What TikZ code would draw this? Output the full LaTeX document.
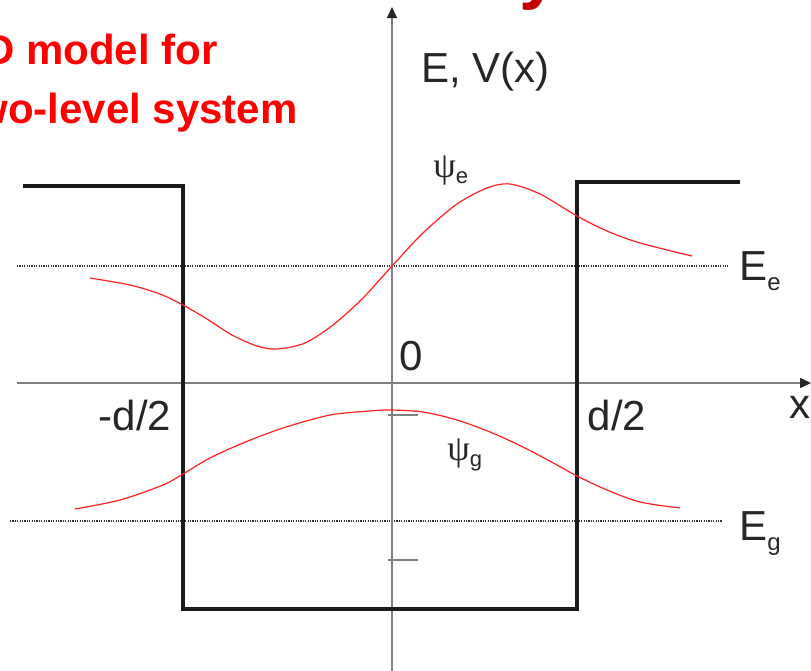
\documentclass[tikz,border=0pt]{standalone}
\usepackage{fontspec}
\setmainfont{Liberation Sans}
\newfontfamily\greekfont{Liberation Serif}
\usetikzlibrary{arrows.meta}
\definecolor{wellblack}{HTML}{1A1A1A}
\definecolor{axisgray}{HTML}{808080}
\definecolor{wavered}{HTML}{FF2020}
\definecolor{titlered}{HTML}{FF0000}
\definecolor{titledark}{HTML}{C00000}
\newcommand{\levelsub}[1]{E\raisebox{-5pt}{\fontsize{12}{12}\selectfont #1}}
\newcommand{\psisub}[1]{{\greekfont\fontsize{18}{18}\selectfont ψ}\raisebox{-3pt}{\fontsize{11}{11}\selectfont #1}}

\begin{document}
\begin{tikzpicture}[
  x=0.5pt,y=-0.5pt,
  well/.style={line width=2pt,draw=wellblack,line join=miter},
  axis/.style={line width=0.7pt,draw=axisgray,-{Triangle[length=5.5pt,width=5pt,color=black!85]}},
  level/.style={line width=0.6pt,draw=black!80,dash pattern=on 0.6pt off 0.6pt},
  wave/.style={line width=0.6pt,draw=wavered},
  lab/.style={inner sep=0pt,font=\fontsize{21}{25}\selectfont,text=black!85},
  title/.style={inner sep=0pt,font=\bfseries\fontsize{21}{25}\selectfont,text=titlered}
]
  \useasboundingbox (0,0) rectangle (811,671);
  \clip (0,0) rectangle (811,671);

  \node[title,anchor=base east] (titleone) at (218,64) {D model for};
  \node[title,anchor=base east] (titletwo) at (298,123) {wo-level system};
  \node[anchor=base,inner sep=0pt,text=titledark,font=\bfseries\fontsize{36}{36}\selectfont] (titletail) at (540,-5) {y};

  \draw[level] (17,266) -- (728,266);
  \draw[level] (10,521) -- (722,521);

  \draw[axis] (392,671) -- (392,7);
  \draw[axis] (17,383) -- (811,383);
  \draw[axisgray,line width=0.7pt] (388,415) -- (418,415);
  \draw[axisgray,line width=0.7pt] (388,560) -- (418,560);

  \draw[well] (23,186) -- (183,186) -- (183,609) -- (577,609) -- (577,182) -- (740,182);

  \draw[wave] plot[smooth] coordinates {(90,278) (130,285) (160,294) (183,305) (207,319) (232,335) (257,346) (277,349) (305,343) (333,325) (363,298) (392,266) (423,233) (457,204) (487,188) (510,184) (540,194) (577,216) (607,231) (640,243) (692,256)};
  \draw[wave] plot[smooth] coordinates {(75,509) (120,500) (163,485) (183,474) (210,458) (243,443) (283,428) (330,415) (370,411) (390,410) (423,412) (457,420) (490,432) (523,447) (557,465) (577,476) (607,490) (640,502) (680,508)};

  \node[lab,anchor=base west] (evlabel) at (421,82) {E, V(x)};
  \node[lab] (zero) at (411,356) {0};
  \node[lab] (leftedge) at (135,415) {-d/2};
  \node[lab] (rightedge) at (617,415) {d/2};
  \node[lab] (xlabel) at (800,407) {x};
  \node[lab,anchor=base west] (elevel) at (739,280) {\levelsub{e}};
  \node[lab,anchor=base west] (glevel) at (739,540) {\levelsub{g}};
  \node[anchor=base west,inner sep=0pt,text=black!85] (psie) at (433,177) {\psisub{e}};
  \node[anchor=base west,inner sep=0pt,text=black!85] (psig) at (447,460) {\psisub{g}};
\end{tikzpicture}
\end{document}
